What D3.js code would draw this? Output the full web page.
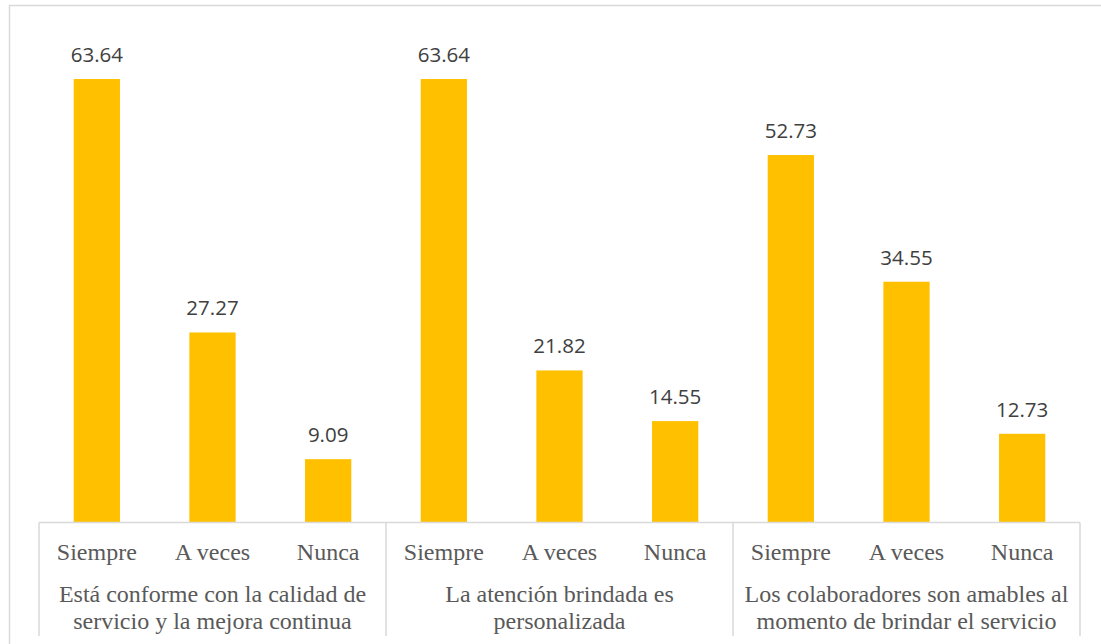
<!DOCTYPE html>
<html><head><meta charset="utf-8">
<script src="https://cdn.jsdelivr.net/npm/d3@7"></script>
<style>html,body{margin:0;padding:0;background:#fff;overflow:hidden}
.ser{font-family:"Liberation Serif","Times New Roman",serif}
.num{font-family:"Open Sans",sans-serif}</style>
</head><body>
<svg id="c" width="1101" height="644"></svg>
<script>
const groups = ["g1","g2","g3"];
const groupLabels = [
  ["Está conforme con la calidad de","servicio y la mejora continua"],
  ["La atención brindada es","personalizada"],
  ["Los colaboradores son amables al","momento de brindar el servicio"]
];
const subCategories = ["Siempre","A veces","Nunca"];
const values = [
  [63.64, 27.27, 9.09],
  [63.64, 21.82, 14.55],
  [52.73, 34.55, 12.73]
];

const svg = d3.select("#c");
svg.append("rect").attr("x",9.5).attr("y",5.5).attr("width",1200).attr("height",800)
  .attr("fill","none").attr("stroke","#d9d9d9").attr("stroke-width",1.5);

const x0 = d3.scaleBand().domain(groups).range([39,1080]).padding(0);
const x1 = d3.scaleBand().domain(subCategories).range([0,x0.bandwidth()]).paddingInner(0.6).paddingOuter(0.3);
const y = d3.scaleLinear().domain([0,70]).range([522.5,34.7]);

const g = svg.append("g");
groups.forEach((gk,gi)=>{
  const gg = g.append("g").attr("transform",`translate(${x0(gk)},0)`);
  gg.selectAll("rect").data(subCategories).join("rect")
    .attr("x",d=>x1(d)).attr("width",x1.bandwidth())
    .attr("y",(d,i)=>y(values[gi][i]))
    .attr("height",(d,i)=>y(0)-y(values[gi][i]))
    .attr("fill","#FFC000");
  gg.selectAll("text.v").data(subCategories).join("text").attr("class","v num")
    .attr("x",d=>x1(d)+x1.bandwidth()/2)
    .attr("y",(d,i)=>y(values[gi][i])-17)
    .attr("text-anchor","middle")
    .attr("font-size",20.5)
    .attr("fill","#404040")
    .text((d,i)=>values[gi][i].toFixed(2));
  gg.selectAll("text.s").data(subCategories).join("text").attr("class","s ser")
    .attr("x",d=>x1(d)+x1.bandwidth()/2)
    .attr("y",560)
    .attr("text-anchor","middle")
    .attr("font-size",24)
    .attr("fill","#595959")
    .text(d=>d);
  gg.selectAll("text.gl").data(groupLabels[gi]).join("text").attr("class","gl ser")
    .attr("x",x0.bandwidth()/2)
    .attr("y",(d,i)=>602+i*26.5)
    .attr("text-anchor","middle")
    .attr("font-size",24)
    .attr("fill","#595959")
    .text(d=>d);
});

const axis = svg.append("g").attr("stroke","#d9d9d9").attr("stroke-width",1.5);
axis.append("line").attr("x1",x0.range()[0]).attr("x2",x0.range()[1]).attr("y1",y(0)).attr("y2",y(0));
const bounds = groups.map(d=>x0(d)).concat([x0.range()[1]]);
axis.selectAll("line.b").data(bounds).join("line").attr("class","b")
  .attr("x1",d=>d).attr("x2",d=>d).attr("y1",y(0)).attr("y2",636);
</script>
</body></html>
